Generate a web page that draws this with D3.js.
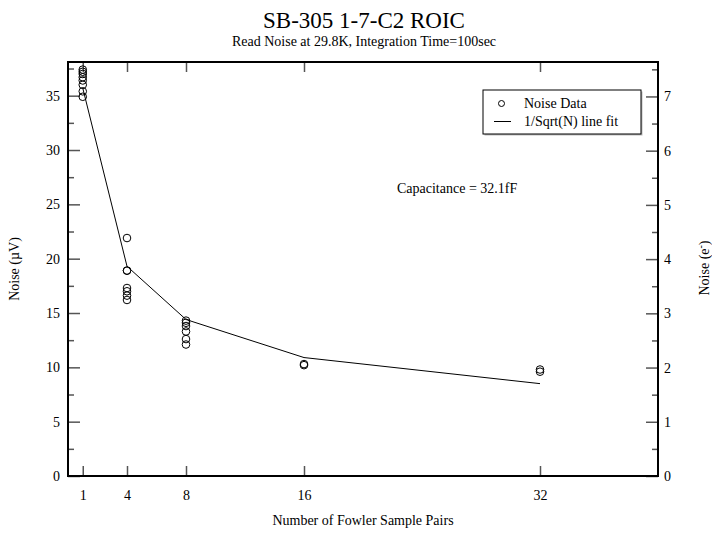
<!DOCTYPE html>
<html>
<head>
<meta charset="utf-8">
<script src="https://cdn.jsdelivr.net/npm/d3@7"></script>
<style>
  body { margin: 0; background: #fff; }
  svg { font-family: "Liberation Serif", "Times New Roman", serif; }
  .tick-label { font-size: 14px; }
</style>
</head>
<body>
<svg id="chart" width="712" height="536"></svg>
<script>
// sample pairs and measured noise (uV)
var pairs = [1, 1, 1, 1, 1, 1, 1, 1,
             4, 4, 4, 4, 4, 4, 4,
             8, 8, 8, 8, 8, 8,
             16, 16,
             32, 32]
var noiseUV = [37.4, 37.2, 37.0, 36.7, 36.4, 36.0, 35.4, 34.9,
               21.9, 18.9, 18.9, 17.3, 17.0, 16.6, 16.2,
               14.3, 14.1, 13.8, 13.3, 12.6, 12.1,
               10.3, 10.2,
               9.8, 9.6]
// 1/sqrt(N) fit
var fitN = [1, 4, 8, 16, 32]
var fitUV = [35.7, 19.3, 14.4, 10.9, 8.5]

var xTicks = [1, 4, 8, 16, 32]
var yTicks = [0, 5, 10, 15, 20, 25, 30, 35]
var eTicks = [0, 1, 2, 3, 4, 5, 6, 7]
var uvPerElectron = 4.99 // q / 32.1fF

var margin = {left: 68, right: 54, top: 62, bottom: 60}
var width = 712 - margin.left - margin.right
var height = 536 - margin.top - margin.bottom

var svg = d3.select('#chart')
var g = svg.append('g').attr('transform', 'translate(' + margin.left + ',' + margin.top + ')')

var x = d3.scaleLinear().domain([0, 40]).range([0, width])
var y = d3.scaleLinear().domain([0, 38.1]).range([height, 0])
var yE = d3.scaleLinear().domain([0, 38.1 / uvPerElectron]).range([height, 0])

// inward ticks
function styleAxis(sel) {
  sel.select('.domain').remove()
  sel.selectAll('.tick line').attr('stroke', '#555').attr('stroke-width', 1.5)
  sel.selectAll('.tick text').attr('class', 'tick-label').attr('fill', '#000')
    .style('font-family', '"Liberation Serif", serif').style('font-size', '14px')
}

g.append('g')
  .attr('transform', 'translate(0,' + height + ')')
  .call(d3.axisBottom(x).tickValues(xTicks).tickSizeInner(-10).tickPadding(14).tickFormat(d3.format('d')))
  .call(styleAxis)

g.append('g')
  .call(d3.axisTop(x).tickValues(xTicks).tickSizeInner(-10).tickFormat(''))
  .call(styleAxis)

// left: major + minor
g.append('g')
  .call(d3.axisLeft(y).tickValues(d3.range(2.5, 38, 5)).tickSizeInner(-6).tickFormat(''))
  .call(styleAxis)
g.append('g')
  .call(d3.axisLeft(y).tickValues(yTicks).tickSizeInner(-12).tickPadding(8).tickFormat(d3.format('d')))
  .call(styleAxis)

// right: electrons
g.append('g')
  .attr('transform', 'translate(' + width + ',0)')
  .call(d3.axisRight(yE).tickValues(d3.range(0.5, 7.6, 1)).tickSizeInner(-6).tickFormat(''))
  .call(styleAxis)
g.append('g')
  .attr('transform', 'translate(' + width + ',0)')
  .call(d3.axisRight(yE).tickValues(eTicks).tickSizeInner(-12).tickPadding(6).tickFormat(d3.format('d')))
  .call(styleAxis)

// frame
g.append('rect')
  .attr('width', width).attr('height', height)
  .attr('fill', 'none').attr('stroke', '#000').attr('stroke-width', 2)

// fit line
var line = d3.line()
  .x(function(d, i) { return x(fitN[i]) })
  .y(function(d) { return y(d) })
g.append('path')
  .datum(fitUV)
  .attr('d', line)
  .attr('fill', 'none').attr('stroke', '#000').attr('stroke-width', 1)

// data points
g.selectAll('.pt')
  .data(noiseUV)
  .enter().append('circle')
  .attr('class', 'pt')
  .attr('cx', function(d, i) { return x(pairs[i]) })
  .attr('cy', function(d) { return y(d) })
  .attr('r', 3.8)
  .attr('fill', 'none').attr('stroke', '#000').attr('stroke-width', 1)

// legend
var legend = g.append('g').attr('transform', 'translate(' + (483 - margin.left) + ',' + (90 - margin.top) + ')')
legend.append('rect').attr('x', 1.5).attr('y', 1.5).attr('width', 158).attr('height', 44).attr('fill', '#bbb')
legend.append('rect').attr('width', 158).attr('height', 44)
  .attr('fill', '#fff').attr('stroke', '#000').attr('stroke-width', 1)
legend.append('circle').attr('cx', 18.5).attr('cy', 13.5).attr('r', 3).attr('fill', 'none').attr('stroke', '#000')
legend.append('text').attr('x', 41).attr('y', 18).style('font-size', '14px').text('Noise Data')
legend.append('line').attr('x1', 11).attr('x2', 28).attr('y1', 31.5).attr('y2', 31.5).attr('stroke', '#000')
legend.append('text').attr('x', 41).attr('y', 36).style('font-size', '14px').text('1/Sqrt(N) line fit')

g.append('text')
  .attr('x', 397 - margin.left).attr('y', 193 - margin.top)
  .style('font-size', '14px')
  .text('Capacitance = 32.1fF')

// titles
svg.append('text')
  .attr('x', 364).attr('y', 28)
  .attr('text-anchor', 'middle')
  .style('font-size', '23px')
  .text('SB-305 1-7-C2 ROIC')
svg.append('text')
  .attr('x', 364).attr('y', 46)
  .attr('text-anchor', 'middle')
  .style('font-size', '14px')
  .text('Read Noise at 29.8K, Integration Time=100sec')

svg.append('text')
  .attr('x', 363).attr('y', 525)
  .attr('text-anchor', 'middle')
  .style('font-size', '14px')
  .text('Number of Fowler Sample Pairs')

svg.append('text')
  .attr('transform', 'translate(19,269) rotate(-90)')
  .attr('text-anchor', 'middle')
  .style('font-size', '14px')
  .text('Noise (µV)')

var eLabel = svg.append('text')
  .attr('transform', 'translate(709,268) rotate(-90)')
  .attr('text-anchor', 'middle')
  .style('font-size', '14px')
eLabel.append('tspan').text('Noise (e')
eLabel.append('tspan').attr('dy', -5).style('font-size', '10px').text('-')
eLabel.append('tspan').attr('dy', 5).text(')')
</script>
</body>
</html>
